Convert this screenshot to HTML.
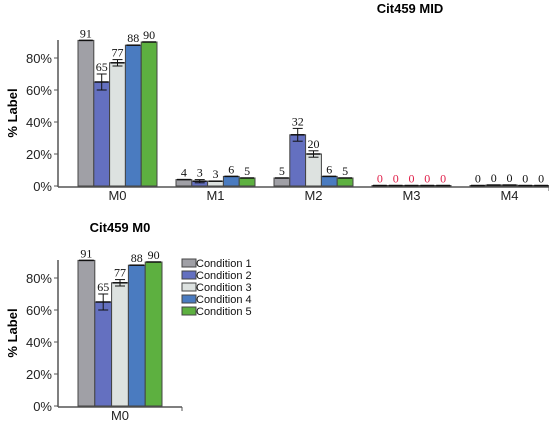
<!DOCTYPE html>
<html><head><meta charset="utf-8"><style>
body{margin:0;background:#fff;width:549px;height:428px;overflow:hidden}
svg{font-family:"Liberation Sans",sans-serif}
</style></head><body>
<svg id="c" width="549" height="428" xmlns="http://www.w3.org/2000/svg"></svg>
<script>
const groups=["M0","M1","M2","M3","M4"];
const conditions=["Condition 1","Condition 2","Condition 3","Condition 4","Condition 5"];
const colors=["#a0a0a6","#6470c0","#dde2e0","#4a7bc0","#5db040"];
const midValues=[[91,65,77,88,90],[4,3,3,6,5],[5,32,20,6,5],[0.3,0.3,0.3,0.3,0.3],[0.3,0.6,0.6,0.3,0.3]];
const midLabels=[[91,65,77,88,90],[4,3,3,6,5],[5,32,20,6,5],[0,0,0,0,0],[0,0,0,0,0]];
const midErrors=[[0,5,2,0,0],[0,1,0,0,0],[0,4,2,0,0],[0,0,0,0,0],[0,0,0,0,0]];
const yTicks=[0,20,40,60,80];
const svg=document.getElementById('c');
const NS="http://www.w3.org/2000/svg";
function el(t,a,p){const e=document.createElementNS(NS,t);for(const k in a)e.setAttribute(k,a[k]);(p||svg).appendChild(e);return e;}
function txt(s,a,p){const e=el('text',a,p);e.textContent=s;return e;}
function chart(name,x0,y0,top,xEnd,barW,pitch,start,gList,vals,labs,errs,title,tx,ty){
  const g=el('g',{});
  const y=v=>y0-v*1.6;
  txt(title,{x:tx,y:ty,'text-anchor':'middle','font-size':13,'font-weight':'bold'},g);
  el('line',{x1:58,y1:top,x2:58,y2:y0+1,stroke:'#555','stroke-width':1.5},g);
  el('line',{x1:58,y1:y0+1,x2:xEnd,y2:y0+1,stroke:'#555','stroke-width':1.5},g);
  el('line',{x1:xEnd,y1:y0+1,x2:xEnd,y2:y0+5,stroke:'#555'},g);
  yTicks.forEach(t=>{el('line',{x1:54,x2:58,y1:y(t),y2:y(t),stroke:'#555'},g);
    const l=txt(t+'%',{x:52,y:y(t)+5,'text-anchor':'end','font-size':13,fill:'#222'},g);});
  const yt=txt('% Label',{x:0,y:0,'font-size':13,'font-weight':'bold',transform:`translate(17,${(top+y0)/2}) rotate(-90)`,'text-anchor':'middle'},g);
  
  gList.forEach((gn,gi)=>{
    const gx=x0+gi*pitch;
    const xl=txt(gn,{x:gx+barW*2.5,y:y0+14,'text-anchor':'middle','font-size':13,fill:'#222'},g);
    
    vals[gi].forEach((v,ci)=>{
      const bx=gx+ci*barW;
      const r=el('rect',{x:bx,y:y(v),width:barW,height:y0-y(v),fill:colors[ci],stroke:'#444','stroke-width':1},g);
      
      
      el('line',{x1:bx+1,x2:bx+barW-1,y1:y(v),y2:y(v),stroke:'#111','stroke-width':1.5},g);
      const e=errs[gi][ci];
      if(e>0){const cx=bx+barW/2;
        el('line',{x1:cx,x2:cx,y1:y(v+e),y2:y(v-e),stroke:'#111'},g);
        el('line',{x1:cx-5,x2:cx+5,y1:y(v+e),y2:y(v+e),stroke:'#111'},g);
        el('line',{x1:cx-5,x2:cx+5,y1:y(v-e),y2:y(v-e),stroke:'#111'},g);}
      const lt=txt(String(labs[gi][ci]),{x:bx+barW/2,y:y(v+e)-3,'text-anchor':'middle','font-size':12,'font-family':'Liberation Serif, serif',fill:gn==='M3'?'#e0204a':'#111'},g);
      
    });
  });
}
chart('mid-chart',78,186,40,549,15.8,98,0,groups,midValues,midLabels,midErrors,'Cit459 MID',410,13);
chart('m0-chart',78,406,260,182,16.8,0,0,[groups[0]],[midValues[0]],[midLabels[0]],[midErrors[0]],'Cit459 M0',120,232);
const leg=el('g',{});
conditions.forEach((c,i)=>{const yy=263+i*12;
  el('rect',{x:182,y:yy-4,width:14,height:8,fill:colors[i],stroke:'#444'},leg);
  const t=txt(c,{x:196,y:yy+4,'font-size':11,fill:'#111'},leg);});
</script>
</body></html>
